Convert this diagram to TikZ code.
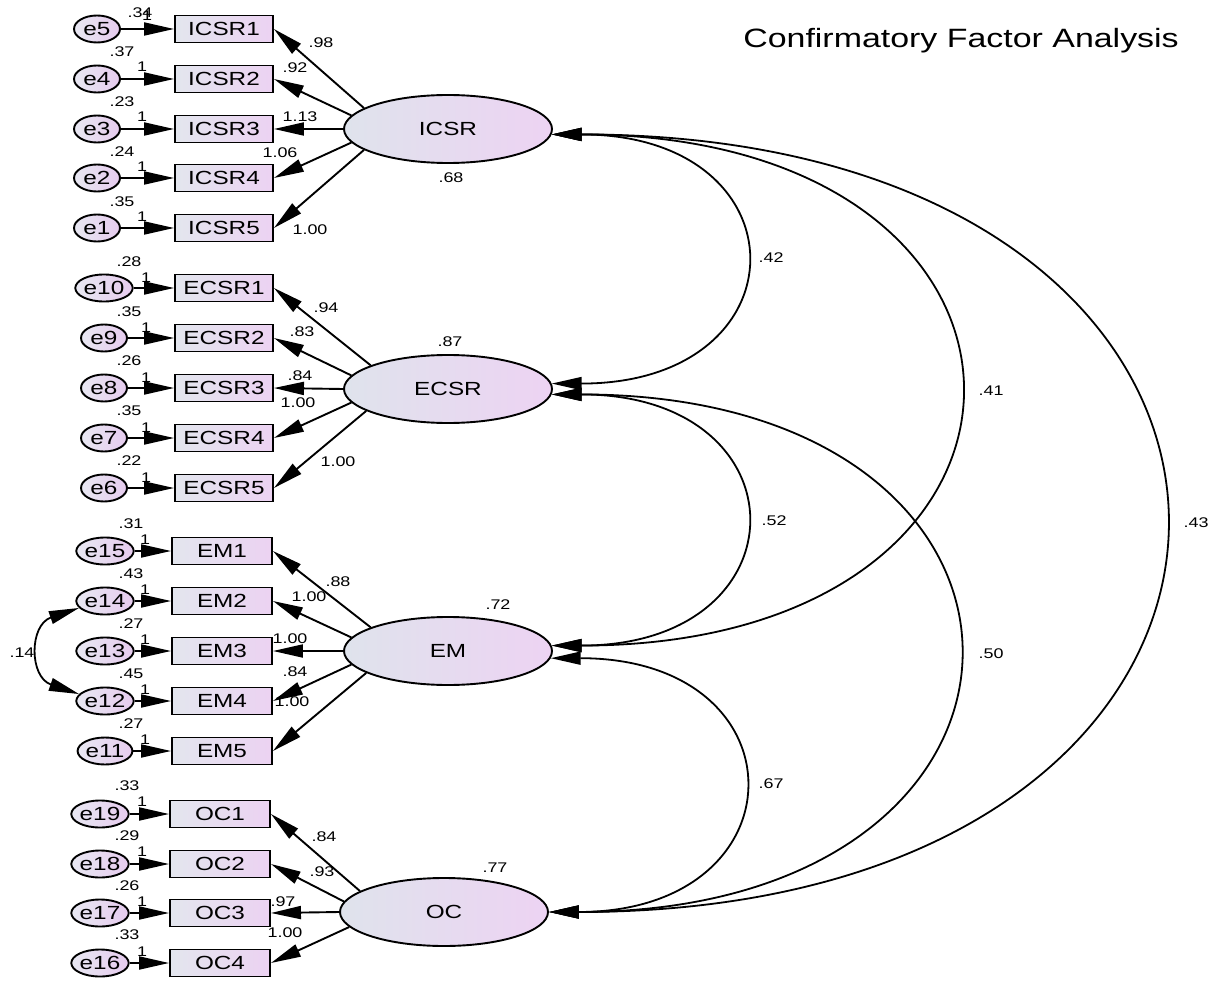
\documentclass[tikz,border=0pt]{standalone}
\usepackage{fontspec}
\setmainfont{Liberation Sans}[FakeStretch=1.28]
\usetikzlibrary{arrows.meta,shapes.geometric}
\definecolor{latL}{HTML}{DFE3EC}
\definecolor{latR}{HTML}{EDD3F3}
\definecolor{obsL}{HTML}{E3E6EE}
\definecolor{obsR}{HTML}{ECD2F2}
\definecolor{errL}{HTML}{E8E8F2}
\definecolor{errR}{HTML}{E6CBEE}
\begin{document}
\begin{tikzpicture}[x=1pt,y=-1pt,
  lat/.style={ellipse,draw,line width=1.9pt,minimum width=208pt,minimum height=68pt,inner sep=0pt,left color=latL,right color=latR,font=\fontsize{19}{19}\selectfont},
  obs/.style={rectangle,draw,line width=1.9pt,minimum width=98pt,minimum height=27pt,inner sep=0pt,left color=obsL,right color=obsR,font=\fontsize{19}{19}\selectfont},
  err/.style={ellipse,draw,line width=1.9pt,minimum width=46pt,minimum height=27pt,inner sep=0pt,left color=errL,right color=errR,font=\fontsize{19}{19}\selectfont},
  num/.style={inner sep=0pt,font=\fontsize{14}{14}\selectfont},
  ttl/.style={inner sep=0pt,font=\fontsize{26.5}{26.5}\selectfont},
  arr/.style={line width=1.9pt,-{Triangle[length=30pt,width=13pt]}},
  cov/.style={line width=1.8pt,{Triangle[length=30pt,width=13pt]}-{Triangle[length=30pt,width=13pt]}}
]
\useasboundingbox (0,0) rectangle (1225,981);

\node[ttl] (title) at (961,41) {Confirmatory Factor Analysis};

% ---------------- latent variables
\node[lat] (ICSR) at (448,129) {ICSR};
\node[lat] (ECSR) at (448,389) {ECSR};
\node[lat] (EM) at (448,651) {EM};
\node[lat] (OC) at (444,912) {OC};

% ---------------- ICSR block
\node[obs] (ICSR1) at (224,29) {ICSR1};
\node[obs] (ICSR2) at (224,79) {ICSR2};
\node[obs] (ICSR3) at (224,129) {ICSR3};
\node[obs] (ICSR4) at (224,178) {ICSR4};
\node[obs] (ICSR5) at (224,228) {ICSR5};
\node[err] (e5) at (97,29) {e5};
\node[err] (e4) at (97,79) {e4};
\node[err] (e3) at (97,129) {e3};
\node[err] (e2) at (97,178) {e2};
\node[err] (e1) at (97,228) {e1};
\foreach \e/\o in {e5/ICSR1,e4/ICSR2,e3/ICSR3,e2/ICSR4,e1/ICSR5}{\draw[arr] (\e) -- (\o);}
\draw[arr] (ICSR.166) -- (ICSR1.east);
\draw[arr] (ICSR.172) -- (ICSR2.east);
\draw[arr] (ICSR.west) -- (ICSR3.east);
\draw[arr] (ICSR.188) -- (ICSR4.east);
\draw[arr] (ICSR.194) -- (ICSR5.east);
\node[num] (v5) at (140,13) {.34};
\node[num] (v4) at (122,52) {.37};
\node[num] (v3) at (122,102) {.23};
\node[num] (v2) at (122,152) {.24};
\node[num] (v1) at (122,202) {.35};
\node[num] (w5) at (147,16) {1};
\node[num] (w4) at (142,67) {1};
\node[num] (w3) at (142,117) {1};
\node[num] (w2) at (142,167) {1};
\node[num] (w1) at (142,217) {1};
\node[num] (l1) at (321,43) {.98};
\node[num] (l2) at (295,68) {.92};
\node[num] (l3) at (300,117) {1.13};
\node[num] (l4) at (280,153) {1.06};
\node[num] (l5) at (310,230) {1.00};
\node[num] (vICSR) at (451,178) {.68};

% ---------------- ECSR block
\node[obs] (ECSR1) at (224,288) {ECSR1};
\node[obs] (ECSR2) at (224,338) {ECSR2};
\node[obs] (ECSR3) at (224,388) {ECSR3};
\node[obs] (ECSR4) at (224,438) {ECSR4};
\node[obs] (ECSR5) at (224,488) {ECSR5};
\node[err] (e10) at (104,288) {e10};
\node[err] (e9) at (104,338) {e9};
\node[err] (e8) at (104,388) {e8};
\node[err] (e7) at (104,438) {e7};
\node[err] (e6) at (104,488) {e6};
\foreach \e/\o in {e10/ECSR1,e9/ECSR2,e8/ECSR3,e7/ECSR4,e6/ECSR5}{\draw[arr] (\e) -- (\o);}
\draw[arr] (ECSR.163) -- (ECSR1.east);
\draw[arr] (ECSR.172) -- (ECSR2.east);
\draw[arr] (ECSR.west) -- (ECSR3.east);
\draw[arr] (ECSR.188) -- (ECSR4.east);
\draw[arr] (ECSR.195) -- (ECSR5.east);
\node[num] (v10) at (129,262) {.28};
\node[num] (v9) at (129,312) {.35};
\node[num] (v8) at (129,361) {.26};
\node[num] (v7) at (129,411) {.35};
\node[num] (v6) at (129,461) {.22};
\node[num] (w10) at (146,278) {1};
\node[num] (w9) at (146,328) {1};
\node[num] (w8) at (146,378) {1};
\node[num] (w7) at (146,428) {1};
\node[num] (w6) at (146,478) {1};
\node[num] (m1) at (326,308) {.94};
\node[num] (m2) at (302,332) {.83};
\node[num] (m3) at (300,376) {.84};
\node[num] (m4) at (298,403) {1.00};
\node[num] (m5) at (338,462) {1.00};
\node[num] (vECSR) at (450,342) {.87};

% ---------------- EM block
\node[obs,minimum width=100pt] (EM1) at (222,551) {EM1};
\node[obs,minimum width=100pt] (EM2) at (222,601) {EM2};
\node[obs,minimum width=100pt] (EM3) at (222,651) {EM3};
\node[obs,minimum width=100pt] (EM4) at (222,701) {EM4};
\node[obs,minimum width=100pt] (EM5) at (222,751) {EM5};
\node[err] (e15) at (105,551) {e15};
\node[err] (e14) at (105,601) {e14};
\node[err] (e13) at (105,651) {e13};
\node[err] (e12) at (105,701) {e12};
\node[err] (e11) at (105,751) {e11};
\foreach \e/\o in {e15/EM1,e14/EM2,e13/EM3,e12/EM4,e11/EM5}{\draw[arr] (\e) -- (\o);}
\draw[arr] (EM.163) -- (EM1.east);
\draw[arr] (EM.172) -- (EM2.east);
\draw[arr] (EM.west) -- (EM3.east);
\draw[arr] (EM.188) -- (EM4.east);
\draw[arr] (EM.195) -- (EM5.east);
\draw[cov] (e14.195) .. controls +(-50,17) and +(-50,-17) .. (e12.165);
\node[num] (c14) at (22,653) {.14};
\node[num] (v15) at (131,524) {.31};
\node[num] (v14) at (131,574) {.43};
\node[num] (v13) at (131,624) {.27};
\node[num] (v12) at (131,674) {.45};
\node[num] (v11) at (131,724) {.27};
\node[num] (w15) at (145,540) {1};
\node[num] (w14) at (145,590) {1};
\node[num] (w13) at (145,640) {1};
\node[num] (w12) at (145,690) {1};
\node[num] (w11) at (145,740) {1};
\node[num] (n1) at (338,582) {.88};
\node[num] (n2) at (309,597) {1.00};
\node[num] (n3) at (290,639) {1.00};
\node[num] (n4) at (295,672) {.84};
\node[num] (n5) at (292,702) {1.00};
\node[num] (vEM) at (498,605) {.72};

% ---------------- OC block
\node[obs,minimum width=100pt] (OC1) at (220,814) {OC1};
\node[obs,minimum width=100pt] (OC2) at (220,864) {OC2};
\node[obs,minimum width=100pt] (OC3) at (220,913) {OC3};
\node[obs,minimum width=100pt] (OC4) at (220,963) {OC4};
\node[err] (e19) at (100,814) {e19};
\node[err] (e18) at (100,864) {e18};
\node[err] (e17) at (100,913) {e17};
\node[err] (e16) at (100,963) {e16};
\foreach \e/\o in {e19/OC1,e18/OC2,e17/OC3,e16/OC4}{\draw[arr] (\e) -- (\o);}
\draw[arr] (OC.166) -- (OC1.east);
\draw[arr] (OC.174) -- (OC2.east);
\draw[arr] (OC.west) -- (OC3.east);
\draw[arr] (OC.189) -- (OC4.east);
\node[num] (v19) at (127,786) {.33};
\node[num] (v18) at (127,836) {.29};
\node[num] (v17) at (127,886) {.26};
\node[num] (v16) at (127,935) {.33};
\node[num] (w19) at (142,802) {1};
\node[num] (w18) at (142,852) {1};
\node[num] (w17) at (142,902) {1};
\node[num] (w16) at (142,952) {1};
\node[num] (o1) at (324,837) {.84};
\node[num] (o2) at (322,872) {.93};
\node[num] (o3) at (283,902) {.97};
\node[num] (o4) at (285,933) {1.00};
\node[num] (vOC) at (495,868) {.77};

% ---------------- covariances
\draw[cov] (ICSR.-3.4) .. controls +(255,0) and +(255,0) .. (ECSR.3.4);
\draw[cov] (ICSR.-3.4) .. controls +(540,0) and +(540,0) .. (EM.3.4);
\draw[cov] (ICSR.-3.4) .. controls +(815,0) and +(815,0) .. (OC.east);
\draw[cov] (ECSR.-3) .. controls +(255,0) and +(255,0) .. (EM.3.4);
\draw[cov] (ECSR.-3) .. controls +(540,0) and +(540,0) .. (OC.east);
\draw[cov] (EM.-4) .. controls +(255,0) and +(255,0) .. (OC.east);
\node[num] (k1) at (771,258) {.42};
\node[num] (k2) at (991,391) {.41};
\node[num] (k3) at (1196,523) {.43};
\node[num] (k4) at (774,521) {.52};
\node[num] (k5) at (991,654) {.50};
\node[num] (k6) at (771,784) {.67};
\end{tikzpicture}
\end{document}
